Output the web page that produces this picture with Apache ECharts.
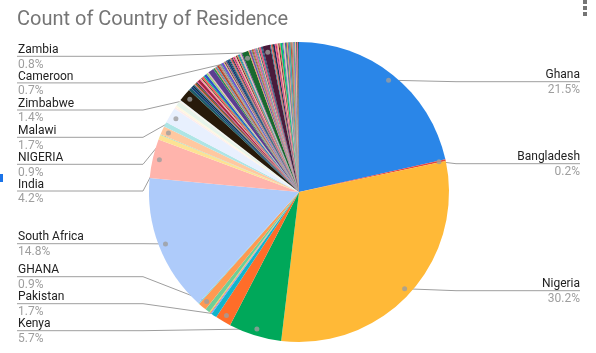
<!DOCTYPE html>
<html>
<head>
<meta charset="utf-8">
<script src="https://cdn.jsdelivr.net/npm/echarts@6/dist/echarts.min.js"></script>
<style>
  html, body { margin: 0; padding: 0; background: #fff; }
  #chart { width: 596px; height: 353px; }
</style>
</head>
<body>
<div id="chart"></div>
<script>
// slices in drawing order (clockwise from 12 o'clock), share in %
const countries = [
  'Ghana', 'Bangladesh', 'Nigeria', 'Kenya', 'Pakistan', 'Uganda', 'United States', 'United Kingdom',
  'Canada', 'Tanzania', 'GHANA', 'Ethiopia', 'South Africa', 'India', 'Rwanda', 'Egypt',
  'NIGERIA', 'Botswana', 'Malawi', 'Namibia', 'Lesotho', 'Eswatini', 'Mozambique', 'Sierra Leone', 'Zimbabwe',
  // small ones before Cameroon
  'Liberia', 'Gambia', 'Senegal', "Cote d'Ivoire", 'Togo', 'Benin', 'Burkina Faso', 'Mali',
  'Niger', 'Chad', 'Sudan', 'South Sudan', 'Somalia', 'Eritrea', 'Djibouti', 'Burundi',
  'DR Congo', 'Congo', 'Gabon', 'Angola', 'Madagascar', 'Mauritius', 'Seychelles', 'Comoros',
  'Cape Verde', 'Guinea', 'Guinea-Bissau', 'Mauritania', 'Morocco', 'Algeria', 'Tunisia', 'Libya',
  'Equatorial Guinea', 'Central African Republic', 'Sao Tome and Principe', 'Germany', 'France', 'Netherlands', 'Belgium', 'Italy',
  'Spain', 'Portugal', 'Ireland', 'Sweden', 'Norway', 'Denmark', 'Finland', 'Switzerland',
  'Cameroon',
  // between Cameroon and Zambia
  'Austria', 'Poland', 'Australia', 'New Zealand', 'China', 'Japan', 'Philippines', 'Indonesia',
  'Malaysia', 'Singapore', 'Sri Lanka', 'Nepal', 'UAE',
  'Zambia',
  // after Zambia
  'Saudi Arabia', 'Qatar', 'Turkey', 'Brazil', 'Mexico', 'Jamaica', 'Trinidad and Tobago', 'Russia',
  'Ukraine', 'Vietnam', 'Thailand', 'Iran', 'Iraq', 'Israel', 'Jordan', 'Lebanon',
  'Kuwait', 'Oman', 'Bahrain', 'Afghanistan', 'Myanmar', 'Cambodia', 'South Korea', 'Argentina',
  'Colombia', 'Peru', 'Chile', 'Haiti'
];
const shares = [
  21.5, 0.2, 30.2, 5.7, 1.7, 0.6, 0.1, 0.1,
  0.1, 0.5, 0.9, 0.1, 14.8, 4.2, 0.5, 0.1,
  0.9, 0.5, 1.7, 0.2, 0.2, 0.5, 0.1, 0.1, 1.4,
  0.3, 0.2, 0.2, 0.1, 0.1, 0.2, 0.1, 0.1,
  0.3, 0.1, 0.1, 0.1, 0.2, 0.1, 0.3, 0.2,
  0.1, 0.6, 0.2, 0.1, 0.1, 0.1, 0.2, 0.1,
  0.1, 0.1, 0.3, 0.1, 0.1, 0.1, 0.1, 0.2,
  0.1, 0.1, 0.1, 0.1, 0.1, 0.1, 0.1, 0.1,
  0.1, 0.1, 0.1, 0.1, 0.1, 0.1, 0.1, 0.1,
  0.7,
  0.1, 0.2, 0.1, 0.1, 0.1, 0.2, 0.1, 0.1,
  0.1, 0.1, 0.2, 0.1, 0.1,
  0.8,
  0.1, 0.1, 0.1, 0.2, 0.1, 0.1, 0.1, 0.1,
  0.1, 0.1, 0.2, 0.1, 0.1, 0.1, 0.1, 0.1,
  0.1, 0.1, 0.2, 0.1, 0.1, 0.1, 0.1, 0.1,
  0.1, 0.1, 0.1, 0.1
];
// slices that get a label, and the y of their leader line
const labelled = ['Ghana', 'Bangladesh', 'Nigeria', 'Kenya', 'Pakistan', 'GHANA', 'South Africa',
  'India', 'NIGERIA', 'Malawi', 'Zimbabwe', 'Cameroon', 'Zambia'];
const labelLineY = [81.7, 163.7, 290.7, 330.7, 303.7, 276.7, 243.7, 191, 164.3, 137.3, 110, 82.9, 56.3];

const baseColors = ['#2a86e8', '#e8453c', '#ffb937', '#00a85a', '#ff6d29', '#12b5cb', '#73a6f5', '#f07b72',
  '#fcd04f', '#6fcf97', '#ff9a52', '#7ed1d7', '#aecbfa', '#ffb4ac', '#fde293', '#aedcba',
  '#ffc8a0', '#aee5e5', '#e8f0fe', '#fdeceb', '#fef7e0', '#e6f4ea', '#fff0e6', '#e8f7f9', '#271a0a'];
const smallColors = ['#1e5c66', '#0f3b78', '#0b2a4a', '#137f86', '#ef4f72', '#8c5a1d', '#1b2b59', '#ff477e',
  '#a3243a', '#e667b7', '#f8c76a', '#3b1e22', '#ff5757', '#00c46a', '#2b57c9', '#9bd67c',
  '#f5a3c7', '#5b3e91', '#2e8b57', '#f29a4a', '#7a4b9c', '#46a8a0', '#c0392b', '#8e8e3c',
  '#d95fa0', '#3cb371', '#6a5acd', '#ffb86b', '#2f4f4f', '#e75480'];
const fixedColors = { 'Cameroon': '#17692f', 'Zambia': '#4a1b3b' };

const cx = 299, cy = 192, R = 150, dotR = 0.955;

const colors = countries.map(function (c, i) {
  if (fixedColors[c]) return fixedColors[c];
  return i < baseColors.length ? baseColors[i] : smallColors[(i - baseColors.length) % smallColors.length];
});

const total = shares.reduce(function (a, b) { return a + b; }, 0);
// mid value of each labelled slice, for the little dots
let run = 0;
const dots = [];
shares.forEach(function (v, i) {
  if (labelled.indexOf(countries[i]) >= 0) dots.push([dotR, run + v / 2]);
  run += v;
});

const pieData = countries.map(function (c, i) {
  const on = labelled.indexOf(c) >= 0;
  return {
    name: c,
    value: shares[i],
    itemStyle: { color: colors[i] },
    label: { show: on },
    labelLine: { show: on }
  };
});

const chart = echarts.init(document.getElementById('chart'));
chart.setOption({
  animation: false,
  title: {
    text: 'Count of Country of Residence',
    left: 17, top: 10, padding: 0,
    textStyle: { fontSize: 20, fontWeight: 'normal', color: '#757575', fontFamily: 'Roboto' }
  },
  polar: { center: [cx, cy], radius: R },
  angleAxis: { type: 'value', min: 0, max: total, startAngle: 90, clockwise: true, show: false },
  radiusAxis: { type: 'value', min: 0, max: 1, show: false },
  graphic: [
    { type: 'rect', shape: { x: 0, y: 174, width: 3, height: 8 }, style: { fill: '#1a73e8' } },
    { type: 'rect', shape: { x: 583, y: 0, width: 4, height: 4 }, style: { fill: '#757575' } },
    { type: 'rect', shape: { x: 583, y: 6, width: 4, height: 4 }, style: { fill: '#757575' } },
    { type: 'rect', shape: { x: 583, y: 12, width: 4, height: 4 }, style: { fill: '#757575' } }
  ],
  series: [{
    type: 'pie',
    center: [cx, cy],
    radius: R,
    startAngle: 90,
    clockwise: true,
    percentPrecision: 1,
    avoidLabelOverlap: false,
    silent: true,
    itemStyle: { borderWidth: 0 },
    label: {
      position: 'outside',
      formatter: '{n|{b}}\n{p|{d}%}',
      rich: {
        n: { fontSize: 12, color: '#222222', fontFamily: 'Roboto', lineHeight: 14.5 },
        p: { fontSize: 12, color: '#9e9e9e', fontFamily: 'Roboto', lineHeight: 14.5 }
      }
    },
    labelLine: { lineStyle: { color: '#9e9e9e', width: 1 } },
    labelLayout: function (p) {
      const k = labelled.indexOf(countries[p.dataIndex]);
      if (k < 0 || !p.labelLinePoints) return {};
      const e = p.labelLinePoints[0];
      const d = [cx + (e[0] - cx) * dotR, cy + (e[1] - cy) * dotR];
      const ly = labelLineY[k];
      const right = e[0] > cx;
      return {
        x: right ? 580 : 18,
        y: ly + 1,
        align: right ? 'right' : 'left',
        verticalAlign: 'middle',
        labelLinePoints: right
          ? [d, [456, ly], [580, ly]]
          : [d, [143, ly], [17, ly]]
      };
    },
    data: pieData
  }, {
    type: 'scatter',
    coordinateSystem: 'polar',
    symbolSize: 5,
    silent: true,
    z: 5,
    itemStyle: { color: '#9e9e9e' },
    data: dots
  }]
});
</script>
</body>
</html>
